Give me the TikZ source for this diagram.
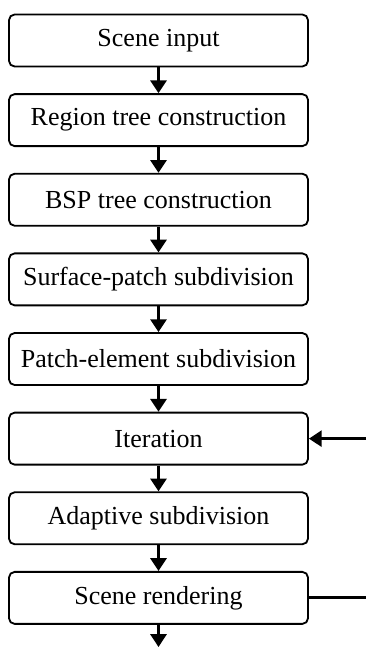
\documentclass[tikz,border=0pt]{standalone}
\usepackage{fontspec}
\setmainfont{Liberation Serif}
\usetikzlibrary{arrows.meta,positioning}
\tikzset{stage/.style={draw=black,line width=1.3pt,rounded corners=4pt,minimum width=7.475cm,
  minimum height=1.3cm,inner sep=0pt,font=\fontsize{18.5}{22}\selectfont},
 arrow/.style={-{Triangle[length=3.2mm,width=4mm]},line width=2pt},
 feed/.style={line width=2pt}}

\begin{document}
\begin{tikzpicture}[x=1cm,y=1cm,node distance=0.645cm]
 \useasboundingbox (0,0) rectangle (9.15,-16.175);
 \node[stage] (input) at (3.9625,-1.0125) {Scene input};
 \node[stage,below=of input] (region) {Region tree construction};
 \node[stage,below=of region] (bsp) {BSP tree construction};
 \node[stage,below=of bsp] (surface) {Surface-patch subdivision};
 \node[stage,below=of surface] (element) {Patch-element subdivision};
 \node[stage,below=of element] (iter) {Iteration};
 \node[stage,below=of iter] (adapt) {Adaptive subdivision};
 \node[stage,below=of adapt] (render) {Scene rendering};
 \foreach \a/\b in {input/region,region/bsp,bsp/surface,surface/element,element/iter,iter/adapt,adapt/render}
  \draw[arrow] (\a) -- (\b);
 % loop back in and out on the right edge
 \coordinate (inR) at (9.15,0 |- iter.east);
 \coordinate (outR) at (render.east -| inR);
 \coordinate (endB) at (render.south |- 0,-16.175);
 \draw[arrow] (inR) -- (iter.east);
 \draw[feed] (render.east) -- (outR);
 \draw[arrow] (render) -- (endB);
\end{tikzpicture}
\end{document}
